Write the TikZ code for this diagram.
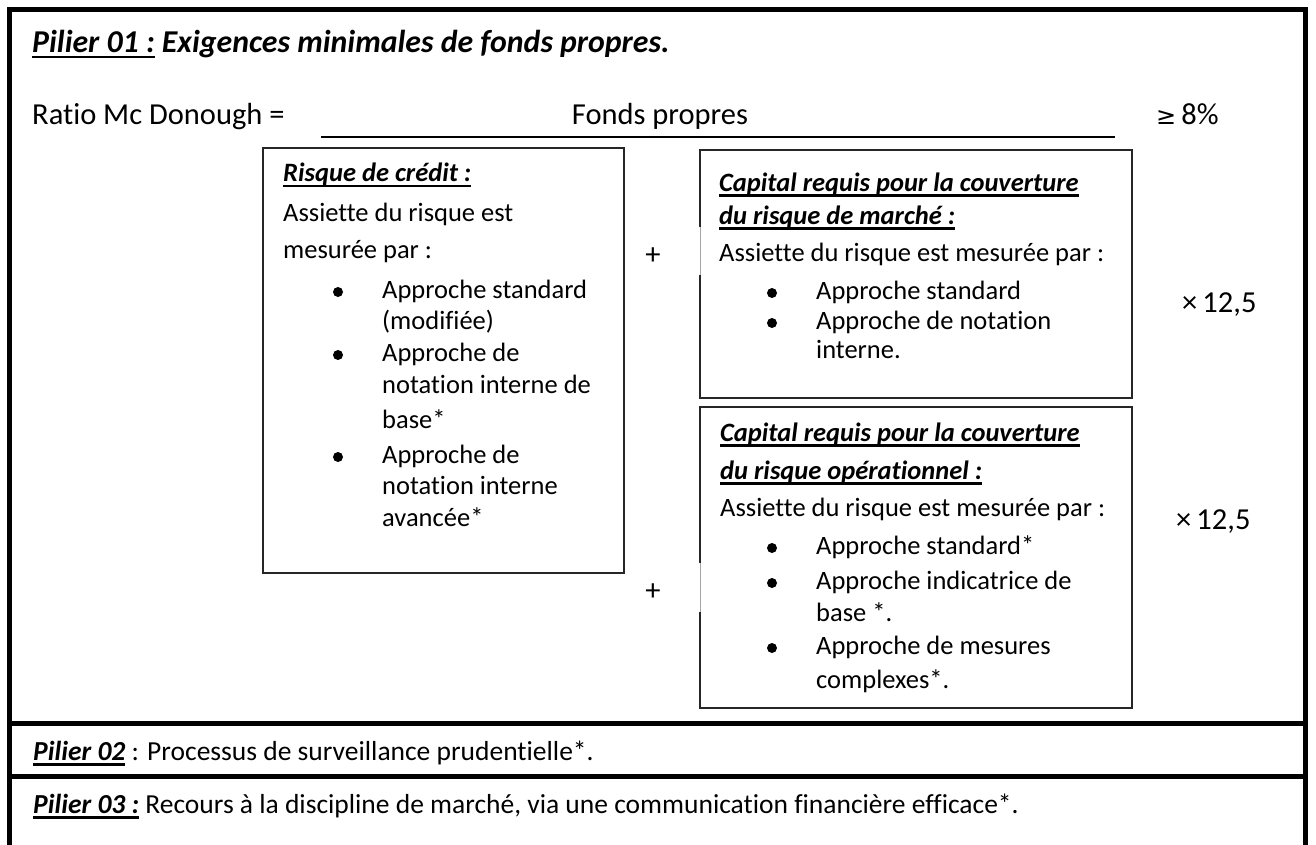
\documentclass[tikz,border=0pt]{standalone}
\usepackage{fontspec}
\setmainfont{Carlito}[Ligatures=NoCommon]
\newfontfamily\gefont{DejaVu Sans}
\usepackage{tikz}

\newcommand{\ulbox}[1]{\setbox0\hbox{#1}\rlap{\rule[-5.5pt]{\wd0}{2.4pt}}\box0\relax}

\tikzset{
	txt/.style={anchor=west, inner sep=0pt, font=\fontsize{26.5}{32}\selectfont, text height=18pt, text depth=6pt},
	big/.style={txt, font=\fontsize{30.5}{36}\selectfont, text height=21pt, text depth=7pt},
	head/.style={txt, font=\fontsize{26.5}{32}\selectfont\bfseries\itshape},
	low/.style={txt, font=\fontsize{27.5}{32}\selectfont},
	bul/.style={circle, fill=black, inner sep=0pt, minimum size=10pt},
	frame/.style={line width=5pt},
	boxline/.style={line width=2pt, black!85},
}

\begin{document}
\begin{tikzpicture}[x=1pt, y=-1pt]
	\useasboundingbox (0,0) rectangle (1316,845);
	\node (0) at (9.5, 10) {};
	\node (1) at (1305.5, 10) {};
	\node (2) at (9.5, 852) {};
	\node (3) at (1305.5, 852) {};
	\node (4) at (9.5, 723) {};
	\node (5) at (1305.5, 723) {};
	\node (6) at (9.5, 776) {};
	\node (7) at (1305.5, 776) {};
	% pilier 01
	\node [big, font=\fontsize{31.8}{36}\selectfont\bfseries\itshape] (8) at (32, 46) {\ulbox{Pilier 01 :} Exigences minimales de fonds propres.};
	\node [big] (9) at (32, 118) {Ratio Mc Donough =};
	\node (10) at (321, 137) {};
	\node (11) at (1115, 137) {};
	\node [big, anchor=center] (12) at (660, 118) {Fonds propres};
	\node [big] (13) at (1156, 118) {{\gefont\fontsize{24}{24}\selectfont ≥}\,8\%};
	\node [big] (14) at (1182, 305) {×\,12,5};
	\node [big] (15) at (1176, 522) {×\,12,5};
	\node [big, anchor=center] (16) at (653, 257) {+};
	\node [big, anchor=center] (17) at (653, 593) {+};
	% risque de credit
	\node (20) at (263, 148) {};
	\node (21) at (624, 573) {};
	\node [head] (22) at (283, 176) {\ulbox{Risque de crédit :}};
	\node [txt] (23) at (283, 215) {Assiette du risque est};
	\node [txt] (24) at (283, 252) {mesurée par :};
	\node [bul] (25) at (338, 292) {};
	\node [txt] (26) at (382, 292) {Approche standard};
	\node [txt] (27) at (382, 323) {(modifiée)};
	\node [bul] (28) at (338, 355) {};
	\node [txt] (29) at (382, 355) {Approche de};
	\node [txt] (30) at (382, 387) {notation interne de};
	\node [txt] (31) at (382, 422) {base*};
	\node [bul] (32) at (338, 457) {};
	\node [txt] (33) at (382, 457) {Approche de};
	\node [txt] (34) at (382, 488) {notation interne};
	\node [txt] (35) at (382, 520) {avancée*};
	% risque de marche
	\node (40) at (700, 227) {};
	\node (41) at (1132, 150) {};
	\node (42) at (700, 398) {};
	\node (43) at (700, 275) {};
	\node [head] (44) at (719, 185) {\ulbox{Capital requis pour la couverture}};
	\node [head] (45) at (719, 218) {\ulbox{du risque de marché :}};
	\node [txt] (46) at (719, 255) {Assiette du risque est mesurée par :};
	\node [bul] (47) at (772, 293) {};
	\node [txt] (48) at (816, 293) {Approche standard};
	\node [bul] (49) at (772, 323) {};
	\node [txt] (50) at (816, 323) {Approche de notation};
	\node [txt] (51) at (816, 352) {interne.};
	% risque operationnel
	\node (60) at (700, 563) {};
	\node (61) at (1132, 407) {};
	\node (62) at (700, 708) {};
	\node (63) at (700, 612) {};
	\node [head] (64) at (720, 435) {\ulbox{Capital requis pour la couverture}};
	\node [head] (65) at (720, 473) {\ulbox{du risque opérationnel :}};
	\node [txt] (66) at (720, 510) {Assiette du risque est mesurée par :};
	\node [bul] (67) at (772, 548) {};
	\node [txt] (68) at (816, 548) {Approche standard*};
	\node [bul] (69) at (772, 583) {};
	\node [txt] (70) at (816, 583) {Approche indicatrice de};
	\node [txt] (71) at (816, 615) {base *.};
	\node [bul] (72) at (772, 648) {};
	\node [txt] (73) at (816, 648) {Approche de mesures};
	\node [txt] (74) at (816, 682) {complexes*.};
	% pilier 02 et 03
	\node [low] (80) at (33, 754) {\ulbox{\bfseries\itshape Pilier 02} : Processus de surveillance prudentielle*.};
	\node [low] (81) at (33, 807) {\ulbox{\bfseries\itshape Pilier 03 :} Recours à la discipline de marché, via une communication financière efficace*.};
	% edges
	\draw [frame] (2.center) to (0.center) to (1.center) to (3.center);
	\draw [frame] (4.center) to (5.center);
	\draw [frame] (6.center) to (7.center);
	\draw [line width=2pt] (10.center) to (11.center);
	\draw [boxline] (20.center) rectangle (21.center);
	\draw [boxline] (40.center) |- (41.center) |- (42.center) -- (43.center);
	\draw [line width=0.6pt, black!35] (40.center) to (43.center);
	\draw [boxline] (60.center) |- (61.center) |- (62.center) -- (63.center);
	\draw [line width=0.6pt, black!35] (60.center) to (63.center);
\end{tikzpicture}
\end{document}
